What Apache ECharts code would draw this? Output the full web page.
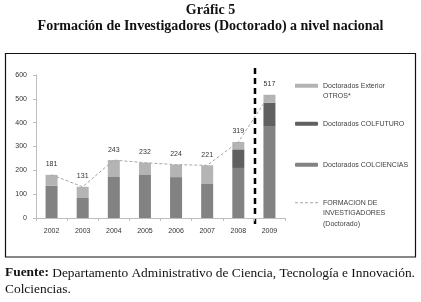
<!DOCTYPE html>
<html>
<head>
<meta charset="utf-8">
<script src="https://cdn.jsdelivr.net/npm/echarts@6/dist/echarts.min.js"></script>
<style>
  html, body { margin: 0; padding: 0; background: #fff; }
  #chart { width: 421px; height: 302px; }
</style>
</head>
<body>
<div id="chart"></div>
<script type="text/javascript">
	var years = ['2002', '2003', '2004', '2005', '2006', '2007', '2008', '2009'];
	var colciencias = [135, 84, 172, 183, 170, 145, 210, 383];
	var colfuturo = [0, 0, 0, 0, 4, 0, 78, 101];
	var exterior = [46, 47, 71, 49, 50, 76, 31, 33];
	var totals = [181, 131, 243, 232, 224, 221, 319, 517];
	var yTicks = [0, 100, 200, 300, 400, 500, 600];

	var sansFont = 'Liberation Sans';
	var serifFont = 'Liberation Serif';
	var chart = echarts.init(document.getElementById('chart'));

	// one legend block per entry so the spacing follows the original;
	// the icon paths sit at the top of the box so they line up with the first text line
	function legendBox(item, top, h) {
		return {
			data: [item],
			orient: 'vertical',
			left: 295,
			top: top,
			itemWidth: 23,
			itemHeight: h,
			itemGap: 0,
			padding: 0,
			textStyle: { fontFamily: sansFont, fontSize: 7, color: '#404040', lineHeight: 10.5 }
		};
	}

	var option = {
		animation: false,
		title: {
			text: 'Gráfic 5\nFormación de Investigadores (Doctorado) a nivel nacional',
			left: 'center',
			top: -3,
			textStyle: { fontFamily: serifFont, fontWeight: 'bold', fontSize: 14, lineHeight: 16.5, color: '#111' }
		},
		legend: [
			legendBox({
				name: 'Doctorados Exterior\nOTROS*',
				icon: 'path://M0,0h23v4h-23z M0,14.4h0.1v0.1h-0.1z'
			}, 80.5, 14.5),
			legendBox('Doctorados COLFUTURO', 118.5, 4),
			legendBox('Doctorados COLCIENCIAS', 159.5, 4),
			legendBox({
				name: 'FORMACION DE\nINVESTIGADORES\n(Doctorado)',
				icon: 'path://M0,0h3v1h-3z M5,0h3v1h-3z M10,0h3v1h-3z M15,0h3v1h-3z M20,0h3v1h-3z M0,21.9h0.1v0.1h-0.1z'
			}, 197.5, 22)
		],
		grid: { left: 36, right: 136, top: 75, bottom: 84 },
		xAxis: {
			type: 'category',
			data: years,
			axisLine: { lineStyle: { color: '#bdbdbd' } },
			axisTick: { show: true, length: 3, lineStyle: { color: '#bdbdbd' } },
			axisLabel: { fontFamily: sansFont, fontSize: 7, color: '#333', margin: 10 }
		},
		yAxis: {
			type: 'value',
			min: yTicks[0],
			max: yTicks[yTicks.length - 1],
			interval: 100,
			splitLine: { show: false },
			axisLine: { show: true, lineStyle: { color: '#bdbdbd' } },
			axisTick: { show: true, length: 3, lineStyle: { color: '#bdbdbd' } },
			axisLabel: { fontFamily: sansFont, fontSize: 7, color: '#333', margin: 9 }
		},
		series: [
			{
				name: 'Doctorados COLCIENCIAS',
				type: 'bar',
				stack: 'doc',
				barWidth: 12,
				itemStyle: { color: '#828282' },
				data: colciencias
			},
			{
				name: 'Doctorados COLFUTURO',
				type: 'bar',
				stack: 'doc',
				itemStyle: { color: '#606060' },
				data: colfuturo
			},
			{
				name: 'Doctorados Exterior\nOTROS*',
				type: 'bar',
				stack: 'doc',
				itemStyle: { color: '#b4b4b4' },
				data: exterior
			},
			{
				name: 'FORMACION DE\nINVESTIGADORES\n(Doctorado)',
				type: 'line',
				symbol: 'circle',
				symbolSize: 0,
				z: 5,
				lineStyle: { color: '#a6a6a6', width: 1, type: [3, 2] },
				itemStyle: { color: '#a6a6a6' },
				label: {
					show: true,
					position: 'top',
					distance: 7,
					fontFamily: sansFont,
					fontSize: 7,
					color: '#333'
				},
				data: totals
			}
		],
		graphic: [
			{
				type: 'rect',
				shape: { x: 5.5, y: 53.5, width: 410, height: 203.5 },
				style: { fill: null, stroke: '#111', lineWidth: 1.2 },
				silent: true
			},
			{
				type: 'text',
				left: 5,
				top: 265,
				style: {
					text: '{b|Fuente:} Departamento Administrativo de Ciencia, Tecnología e Innovación.\nColciencias.',
					fontFamily: serifFont,
					fontSize: 13.4,
					fill: '#111',
					lineHeight: 16,
					rich: { b: { fontWeight: 'bold', fontFamily: serifFont, fontSize: 13.4, lineHeight: 16 } }
				}
			}
		]
	};
	chart.setOption(option);

	// vertical separator between 2008 and 2009
	var xa = chart.convertToPixel({ xAxisIndex: 0 }, '2008');
	var xb = chart.convertToPixel({ xAxisIndex: 0 }, '2009');
	var sepX = Math.round((xa + xb) / 2) + 1;
	chart.setOption({
		graphic: [
			{},
			{},
			{
				type: 'line',
				shape: { x1: sepX, y1: 68, x2: sepX, y2: 227 },
				style: { stroke: '#000', lineWidth: 2.5, lineDash: [6, 4] },
				silent: true
			}
		]
	});
</script>
</body>
</html>
